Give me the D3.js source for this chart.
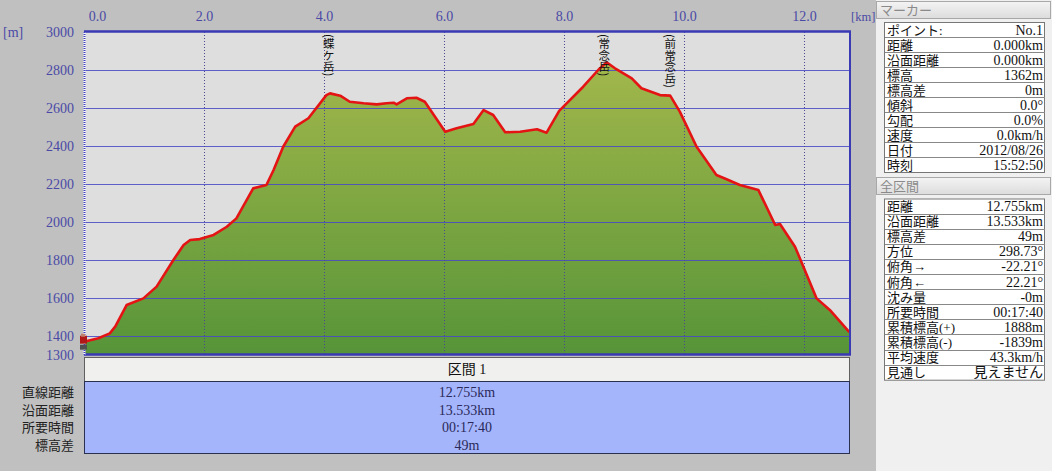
<!DOCTYPE html>
<html><head><meta charset="utf-8">
<script src="https://cdn.jsdelivr.net/npm/d3@7"></script>
<style>
html,body{margin:0;padding:0;background:#c0c0c0;overflow:hidden}
svg{display:block}
text{font-family:"Liberation Serif","Noto Sans CJK JP",serif;}
</style></head><body>
<svg id="c" width="1052" height="471"></svg>
<script>
// ---- data ----
const distKm = [0, 0.24, 0.43, 0.52, 0.71, 0.99, 1.21, 1.49, 1.66, 1.77, 1.93, 2.16, 2.38, 2.54, 2.82, 3.04, 3.16, 3.32, 3.52, 3.74, 4.04, 4.10, 4.27, 4.43, 4.66, 4.88, 5.04, 5.16, 5.21, 5.38, 5.54, 5.68, 6.02, 6.21, 6.49, 6.66, 6.82, 7.02, 7.27, 7.55, 7.71, 7.92, 8.32, 8.57, 8.71, 8.85, 9.13, 9.29, 9.45, 9.60, 9.77, 9.93, 10.21, 10.54, 10.71, 10.93, 11.24, 11.52, 11.60, 11.85, 11.99, 12.21, 12.43, 12.755];
const elevM = [1370, 1388, 1414, 1449, 1563, 1598, 1660, 1800, 1879, 1905, 1910, 1932, 1975, 2019, 2177, 2195, 2274, 2396, 2502, 2546, 2668, 2677, 2665, 2633, 2625, 2619, 2625, 2628, 2619, 2651, 2654, 2633, 2475, 2493, 2516, 2589, 2563, 2472, 2475, 2488, 2470, 2585, 2712, 2800, 2840, 2809, 2756, 2704, 2686, 2668, 2665, 2581, 2396, 2247, 2225, 2195, 2168, 1984, 1989, 1870, 1765, 1598, 1537, 1420];
const xTicks = [0, 2, 4, 6, 8, 10, 12];
const yTicks = [1300, 1400, 1600, 1800, 2000, 2200, 2400, 2600, 2800, 3000];
const peakNames = ["(蝶ケ岳)", "(常念岳)", "(前常念岳)"];
const peakKm = [4.08, 8.67, 9.77];
const sectionTitle = "区間 1";
const sectionLabels = ["直線距離", "沿面距離", "所要時間", "標高差"];
const sectionValues = ["12.755km", "13.533km", "00:17:40", "49m"];
const markerTitle = "マーカー";
const markerLabels = ["ポイント:", "距離", "沿面距離", "標高", "標高差", "傾斜", "勾配", "速度", "日付", "時刻"];
const markerValues = ["No.1", "0.000km", "0.000km", "1362m", "0m", "0.0°", "0.0%", "0.0km/h", "2012/08/26", "15:52:50"];
const totalTitle = "全区間";
const totalLabels = ["距離", "沿面距離", "標高差", "方位", "俯角→", "俯角←", "沈み量", "所要時間", "累積標高(+)", "累積標高(-)", "平均速度", "見通し"];
const totalValues = ["12.755km", "13.533km", "49m", "298.73°", "-22.21°", "22.21°", "-0m", "00:17:40", "1888m", "-1839m", "43.3km/h", "見えません"];

// ---- layout ----
const svg = d3.select("#c");
const L = 84, R = 850, T = 32, B = 355;
const x = d3.scaleLinear().domain([0, 12.755]).range([L, L + 12.755 * 60]);
const y = d3.scaleLinear().domain([1300, 3000]).range([B, T]);
const pts = distKm.map((d, i) => [d, elevM[i]]);

svg.append("rect").attr("width", 1052).attr("height", 471).attr("fill", "#c0c0c0");
svg.append("rect").attr("x", L).attr("y", T).attr("width", R - L).attr("height", B - T).attr("fill", "#dedede");

const defs = svg.append("defs");
const g = defs.append("linearGradient").attr("id", "gf").attr("gradientUnits", "userSpaceOnUse")
  .attr("x1", 0).attr("x2", 0).attr("y1", y(2840)).attr("y2", B);
g.append("stop").attr("offset", 0).attr("stop-color", "#a2b74c");
g.append("stop").attr("offset", 0.5).attr("stop-color", "#7da641");
g.append("stop").attr("offset", 1).attr("stop-color", "#569439");

const area = d3.area().x(d => x(d[0])).y0(B).y1(d => y(d[1]));
svg.append("path").datum(pts).attr("d", area).attr("fill", "url(#gf)");

svg.append("g").selectAll("line").data(yTicks.filter(v => v > 1300 && v < 3000)).join("line")
  .attr("x1", L).attr("x2", R).attr("y1", d => Math.round(y(d)) + 0.5).attr("y2", d => Math.round(y(d)) + 0.5)
  .attr("stroke", "#4848c8").attr("stroke-opacity", 0.85).attr("stroke-width", 1.2);
svg.append("g").selectAll("line").data(xTicks.filter(v => v > 0)).join("line")
  .attr("x1", d => Math.round(x(d)) + 0.5).attr("x2", d => Math.round(x(d)) + 0.5).attr("y1", T).attr("y2", B)
  .attr("stroke", "#4a4a90").attr("stroke-width", 1).attr("stroke-dasharray", "1,2");

const line = d3.line().x(d => x(d[0])).y(d => y(d[1]));
svg.append("path").datum(pts).attr("d", line).attr("fill", "none")
  .attr("stroke", "#e41414").attr("stroke-width", 2.6).attr("stroke-linejoin", "round");

svg.append("line").attr("x1", L).attr("x2", R + 1).attr("y1", T - 0.5).attr("y2", T - 0.5).attr("stroke", "#3a3ab4").attr("stroke-width", 2.5);
svg.append("line").attr("x1", R).attr("x2", R).attr("y1", T).attr("y2", B).attr("stroke", "#3a3ab4").attr("stroke-width", 2);
svg.append("line").attr("x1", L).attr("x2", R + 1).attr("y1", B - 0.5).attr("y2", B - 0.5).attr("stroke", "#3a3ab4").attr("stroke-width", 2.5);
svg.append("line").attr("x1", L + 0.5).attr("x2", L + 0.5).attr("y1", T).attr("y2", B).attr("stroke", "#ffffff").attr("stroke-width", 2);
svg.append("line").attr("x1", L + 0.5).attr("x2", L + 0.5).attr("y1", T).attr("y2", B).attr("stroke", "#4040c0").attr("stroke-width", 2).attr("stroke-dasharray", "1,1");

const hk = svg.append("g").attr("transform", `translate(${x(0)},${y(elevM[0])})`);
hk.append("rect").attr("x", -4).attr("y", -6).attr("width", 7).attr("height", 8).attr("fill", "#b01818");
hk.append("rect").attr("x", -3).attr("y", -8).attr("width", 4).attr("height", 3).attr("fill", "#c08070");
hk.append("rect").attr("x", -4).attr("y", 3).attr("width", 7).attr("height", 5).attr("fill", "#505050");

const axC = "#4a4aa6";
const xa = svg.append("g").attr("transform", `translate(0,${T - 11})`)
  .call(d3.axisTop(x).tickValues(xTicks).tickFormat(d3.format(".1f")).tickSize(0).tickPadding(0));
xa.select(".domain").remove();
xa.selectAll("text").attr("fill", axC).style("font-size", "14px").attr("dy", "0");
xa.selectAll("text").filter(d => d === 0).attr("dx", 13);

const ya = svg.append("g").attr("transform", `translate(${L - 10},0)`)
  .call(d3.axisLeft(y).tickValues(yTicks).tickFormat(d3.format("d")).tickSize(0).tickPadding(0));
ya.select(".domain").remove();
ya.selectAll("text").attr("fill", axC).style("font-size", "14px");
svg.append("text").attr("x", 3).attr("y", 37).attr("fill", axC).style("font-size", "14px").text("[m]");

// peak labels (vertical writing)
peakNames.forEach((name, i) => {
  svg.append("text").attr("x", x(peakKm[i])).attr("y", 34)
    .style("writing-mode", "vertical-rl").style("font-family", "'Noto Sans CJK JP'")
    .style("font-size", "11.5px").attr("fill", "#111").text(name);
});

// section table
svg.append("rect").attr("x", L + 0.5).attr("y", 357.5).attr("width", R - L - 1).attr("height", 24)
  .attr("fill", "#f0f0ee").attr("stroke", "#606060");
svg.append("text").attr("x", (L + R) / 2).attr("y", 374).attr("text-anchor", "middle")
  .style("font-size", "14px").attr("fill", "#111").text(sectionTitle);
svg.append("rect").attr("x", L + 0.5).attr("y", 381.5).attr("width", R - L - 1).attr("height", 72)
  .attr("fill", "#a5b5fc").attr("stroke", "#2a3050");
const rowY = [392, 409.5, 427, 445];
sectionLabels.forEach((t, i) => {
  svg.append("text").attr("x", 74).attr("y", rowY[i] + 5).attr("text-anchor", "end")
    .style("font-size", "13px").attr("fill", "#222").text(t);
  svg.append("text").attr("x", (L + R) / 2).attr("y", rowY[i] + 5).attr("text-anchor", "middle")
    .style("font-size", "14px").attr("fill", "#2a2a5a").text(sectionValues[i]);
});

// right panel
svg.append("rect").attr("x", 876).attr("y", 0).attr("width", 176).attr("height", 471).attr("fill", "#f0f0f0");
svg.append("text").attr("x", 851).attr("y", 21).attr("fill", axC).style("font-size", "12.5px").text("[km]");
function header(yTop, title) {
  const hg = defs.append("linearGradient").attr("id", "hg" + yTop).attr("x1", 0).attr("x2", 0).attr("y1", 0).attr("y2", 1);
  hg.append("stop").attr("offset", 0).attr("stop-color", "#f4f4f4");
  hg.append("stop").attr("offset", 1).attr("stop-color", "#dcdcdc");
  svg.append("rect").attr("x", 876.5).attr("y", yTop + 0.5).attr("width", 174).attr("height", 17)
    .attr("fill", `url(#hg${yTop})`).attr("stroke", "#a8a8a8");
  svg.append("text").attr("x", 880).attr("y", yTop + 14).style("font-size", "13px")
    .style("font-family", "'Noto Sans CJK JP'").attr("fill", "#8a8a8a").text(title);
}
function table(yTop, rh, labels, values) {
  svg.append("rect").attr("x", 884.5).attr("y", yTop + 0.5).attr("width", 160).attr("height", rh * labels.length)
    .attr("fill", "#ffffff").attr("stroke", "#777");
  labels.forEach((t, i) => {
    const ry = yTop + i * rh;
    if (i > 0) svg.append("line").attr("x1", 885).attr("x2", 1045).attr("y1", Math.round(ry) + 0.5).attr("y2", Math.round(ry) + 0.5).attr("stroke", "#888");
    svg.append("text").attr("x", 887).attr("y", ry + rh / 2 + 5).style("font-size", "13px").attr("fill", "#111").text(t);
    svg.append("text").attr("x", 1043).attr("y", ry + rh / 2 + 5).attr("text-anchor", "end").style("font-size", "14px").attr("fill", "#111").text(values[i]);
  });
}
header(1, markerTitle);
table(22, 15, markerLabels, markerValues);
header(177, totalTitle);
table(198.5, 15.1, totalLabels, totalValues);
</script></body></html>
